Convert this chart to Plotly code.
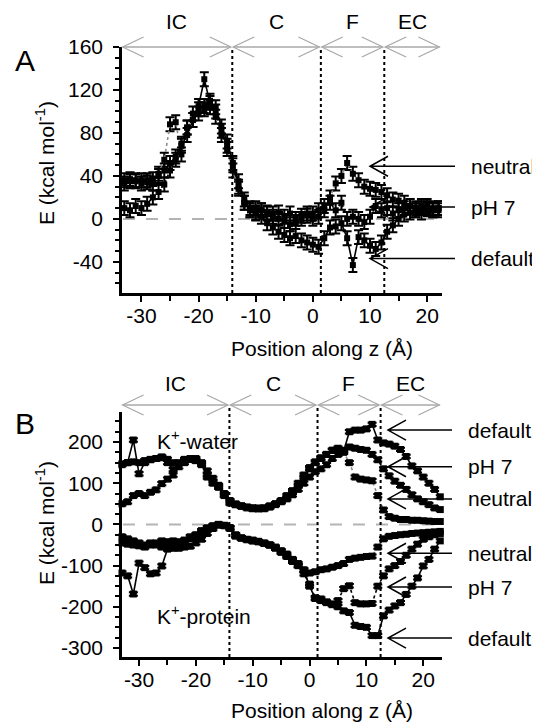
import plotly.graph_objects as go

# ---------------- data ----------------
zA = list(range(-33, 23))
A_default = [36, 37, 35, 36, 34, 37, 40, 45, 52, 58,
             68, 78, 92, 105, 130, 108, 104, 86, 72, 52,
             35, 18, 10, 5, 2, -4, -8, -12, -15, -18,
             -16, -20, -22, -24, -26, -18, -8, -7, -4, -18,
             -43, -17, -20, -25, -28, -22, -12, -6, 0, 4,
             6, 8, 6, 9, 10, 8]
A_ph7 = [10, 8, 12, 10, 14, 20, 25, 32, 45, 55,
         70, 85, 98, 102, 105, 110, 100, 82, 68, 50,
         30, 15, 8, 10, 8, 5, 2, 0, -2, -5,
         -3, 0, 3, 5, 8, 12, 15, 8, 15, 0,
         2, 0, -3, 2, 12, 8, 10, 5, 8, 10,
         12, 8, 10, 12, 8, 10]
A_neutral = [33, 35, 36, 33, 36, 33, 42, 55, 88, 90,
             60, 85, 92, 98, 102, 104, 95, 78, 65, 45,
             28, 15, 8, 6, 8, 6, 5, 6, 2, 5,
             0, 3, 5, 0, 2, 8, 20, 33, 40, 52,
             42, 36, 30, 28, 27, 25, 22, 18, 17, 15,
             12, 10, 12, 10, 8, 10]

zB = list(range(-33, 24))
B_default_water = [147, 150, 205, 123, 150, 157, 160, 164, 150, 133,
                   150, 158, 160, 155, 147, 115, 100, 92, 70, 52,
                   48, 45, 42, 40, 38, 38, 42, 48, 55, 65,
                   78, 95, 115, 135, 150, 160, 170, 180, 185, 178,
                   225, 229, 229, 232, 243, 205, 198, 195, 190, 182,
                   165, 142, 130, 115, 100, 85, 67]
B_ph7_water = [50, 55, 70, 75, 70, 78, 84, 99, 110, 120,
               140, 150, 158, 160, 150, 130, 112, 95, 75, 58,
               50, 45, 42, 40, 40, 40, 45, 50, 58, 70,
               82, 100, 120, 138, 152, 162, 170, 180, 182, 180,
               188, 185, 182, 180, 170, 157, 135, 118, 105, 95,
               85, 72, 62, 55, 48, 40, 36]
B_neutral_water = [145, 150, 152, 150, 155, 158, 160, 162, 158, 150,
                   148, 155, 158, 155, 145, 120, 105, 90, 72, 55,
                   48, 44, 40, 38, 38, 40, 44, 50, 56, 62,
                   72, 85, 100, 115, 128, 135, 145, 160, 170, 175,
                   150, 115, 110, 108, 106, 70, 35, 19, 15, 12,
                   12, 10, 10, 9, 8, 7, 7]
B_default_prot = [-118, -125, -169, -94, -105, -120, -118, -101, -60, -58,
                  -58, -55, -53, -45, -36, -22, -10, 0, -3, -8,
                  -25, -33, -36, -38, -41, -45, -50, -55, -65, -72,
                  -85, -95, -110, -150, -180, -185, -190, -195, -200, -210,
                  -214, -245, -248, -250, -270, -270, -222, -208, -198, -190,
                  -170, -150, -130, -101, -85, -60, -40]
B_ph7_prot = [-30, -35, -40, -45, -50, -45, -50, -55, -58, -55,
              -50, -45, -35, -30, -20, -12, -5, -2, -3, -10,
              -28, -33, -37, -40, -42, -46, -50, -58, -68, -78,
              -90, -100, -120, -145, -178, -181, -188, -193, -185, -156,
              -149, -190, -193, -193, -192, -150, -125, -108, -100, -90,
              -75, -60, -48, -36, -30, -25, -22]
B_neutral_prot = [-45, -48, -50, -52, -55, -50, -45, -40, -42, -40,
                  -42, -38, -30, -25, -15, -8, -3, 0, -2, -8,
                  -28, -33, -37, -40, -42, -46, -50, -56, -64, -75,
                  -88, -100, -112, -118, -115, -110, -108, -104, -100, -95,
                  -85, -82, -80, -78, -77, -55, -35, -29, -27, -25,
                  -24, -22, -21, -20, -19, -18, -17]

err_A = 6.5
err_B = 4

region_bounds = [-14.1, 1.4, 12.5]
region_labels = ["IC", "C", "F", "EC"]

A_arrows = [("neutral", 49), ("pH 7", 11), ("default", -37)]
B_arrows = [("default", 229), ("pH 7", 140), ("neutral", 62),
            ("neutral", -70), ("pH 7", -152), ("default", -276)]

x_ticks = [-30, -20, -10, 0, 10, 20]
yA_ticks = [160, 120, 80, 40, 0, -40]
yB_ticks = [200, 100, 0, -100, -200, -300]

# ---------------- layout geometry (target pixels) ----------------
W, H = 540, 725
OX, OY = 8, 8          # page offset of the plot div
FONT = "Liberation Sans, Arial, sans-serif"


def P(px):
    return (px - OX) / W


def Q(py):
    return 1 - (py - OY) / H


AX_L, AX_R = 122, 442
xdom = [P(AX_L), P(AX_R)]
yA_dom = [Q(293), Q(47)]
yB_dom = [Q(657), Q(412)]
xA_rng = [-33.4, 22.6]
xB_rng = [-33.0, 23.3]
yA_rng = [-69, 160]
yB_rng = [-322, 273]


def frac(v, r):
    return (v - r[0]) / (r[1] - r[0])


def dx(px):
    return (px - AX_L) / (AX_R - AX_L)


def lab(v):
    return str(v)


def txt(size=21):
    return dict(size=size, color="black", family=FONT)


styles = {
    "default": dict(color="black", width=1.6, dash="solid"),
    "pH 7": dict(color="black", width=1.6, dash="dot"),
    "neutral": dict(color="#8a8a8a", width=1.6, dash="dot"),
}

fig = go.Figure()


def add(x, y, name, xa, ya, err, msize):
    fig.add_trace(go.Scatter(
        x=x, y=y, name=name, xaxis=xa, yaxis=ya, mode="lines+markers",
        line=styles[name],
        marker=dict(symbol="square", size=msize, color="black"),
        error_y=dict(type="constant", value=err, color="black",
                     thickness=2, width=4.5),
        showlegend=False, cliponaxis=False))


add(zA, A_neutral, "neutral", "x", "y", err_A, 6)
add(zA, A_ph7, "pH 7", "x", "y", err_A, 6)
add(zA, A_default, "default", "x", "y", err_A, 6)
for nm, ys in [("neutral", B_neutral_water), ("pH 7", B_ph7_water),
               ("default", B_default_water), ("neutral", B_neutral_prot),
               ("pH 7", B_ph7_prot), ("default", B_default_prot)]:
    add(zB, ys, nm, "x2", "y2", err_B, 7)

shapes = []
annotations = []

panels = [
    dict(xr="x", yr="y", xrng=xA_rng, yrng=yA_rng, top=47, arr=47, bottom=293,
         arrows=A_arrows, tip=370, tail=455, text=469, letter="A",
         letter_y=60, lab_y=22, ytitle=163, xtitle=348),
    dict(xr="x2", yr="y2", xrng=xB_rng, yrng=yB_rng, top=412, arr=405, bottom=657,
         arrows=B_arrows, tip=388, tail=452, text=466, letter="B",
         letter_y=423, lab_y=383, ytitle=523, xtitle=710),
]

for p in panels:
    xd, yd = p["xr"] + " domain", p["yr"] + " domain"
    ytop = (p["bottom"] - p["arr"]) / (p["bottom"] - p["top"])
    # zero line
    shapes.append(dict(type="line", xref=xd, yref=p["yr"], x0=0.003, x1=0.985,
                       y0=0, y1=0, layer="below",
                       line=dict(color="#b4b4b4", width=2, dash="12px,11px")))
    # region boundaries
    for b in region_bounds:
        f = frac(b, p["xrng"])
        shapes.append(dict(type="line", xref=xd, yref=yd, x0=f, x1=f,
                           y0=0, y1=ytop,
                           line=dict(color="black", width=2, dash="dot")))
    # region arrows
    edges = [p["xrng"][0] + 0.1] + region_bounds + [p["xrng"][1] - 0.2]
    for i, name in enumerate(region_labels):
        a = frac(edges[i] + (0.15 if i else 0), p["xrng"])
        b = frac(edges[i + 1] - 0.25, p["xrng"])
        shapes.append(dict(type="line", xref=xd, yref=yd, x0=a, x1=b,
                           y0=ytop, y1=ytop,
                           line=dict(color="#a8a8a8", width=1.5)))
        for anc, path in [(a, "M 21,10 L 0,0 L 21,-10"), (b, "M -21,10 L 0,0 L -21,-10")]:
            shapes.append(dict(type="path", xref=xd, yref=yd,
                               xsizemode="pixel", ysizemode="pixel",
                               xanchor=anc, yanchor=ytop, path=path,
                               line=dict(color="#a8a8a8", width=1.2)))
        annotations.append(dict(xref=xd, yref="paper",
                                x=(a + b) / 2, y=Q(p["lab_y"]),
                                xanchor="center", yanchor="middle",
                                text=name, showarrow=False, font=txt()))
    # right side arrows + labels
    for name, yv in p["arrows"]:
        yf = frac(yv, p["yrng"])
        shapes.append(dict(type="path", xref=xd, yref=yd,
                           xsizemode="pixel", ysizemode="pixel",
                           xanchor=dx(p["tip"]), yanchor=yf,
                           path="M 18,10 L 0,0 L 18,-10 M 0,0 L %d,0" % (p["tail"] - p["tip"]),
                           line=dict(color="black", width=1.5)))
        annotations.append(dict(xref=xd, yref=p["yr"], x=dx(p["text"]),
                                y=yv, xanchor="left", yanchor="middle",
                                text=name, showarrow=False, font=txt()))
    # panel letter
    annotations.append(dict(xref="paper", yref="paper", x=P(25), y=Q(p["letter_y"]),
                            xanchor="center", yanchor="middle",
                            text=p["letter"], showarrow=False, font=txt(30)))
    # y title
    annotations.append(dict(xref="paper", yref="paper", x=P(45), y=Q(p["ytitle"]),
                            xanchor="center", yanchor="middle",
                            text="E (kcal mol<sup>-1</sup>)", textangle=-90,
                            showarrow=False, font=txt()))
    # x title
    annotations.append(dict(xref="paper", yref="paper", x=P(322), y=Q(p["xtitle"]),
                            xanchor="center", yanchor="middle",
                            text="Position along z (Å)", showarrow=False, font=txt()))

annotations.append(dict(xref="x2", yref="y2", x=-19.8, y=204,
                        xanchor="center", yanchor="middle",
                        text="K<sup>+</sup>-water", showarrow=False, font=txt()))
annotations.append(dict(xref="x2", yref="y2", x=-18.6, y=-220,
                        xanchor="center", yanchor="middle",
                        text="K<sup>+</sup>-protein", showarrow=False, font=txt()))

axis_common = dict(showline=True, linewidth=2.5, linecolor="black",
                   ticks="outside", ticklen=6, tickwidth=2, tickcolor="black",
                   showgrid=False, zeroline=False, automargin=False,
                   tickfont=txt())


def xminor():
    return dict(tickmode="linear", tick0=0, dtick=5, ticks="outside",
                ticklen=5, tickwidth=1.5, tickcolor="black")


def yminor(d):
    return dict(tickmode="linear", tick0=0, dtick=d, ticks="outside",
                ticklen=4, tickwidth=1.5, tickcolor="black")


fig.update_layout(
    width=W, height=H, margin=dict(l=0, r=0, t=0, b=0, autoexpand=False),
    paper_bgcolor="white", plot_bgcolor="white",
    xaxis=dict(domain=xdom, range=xA_rng, anchor="y", tickmode="array",
               tickvals=x_ticks, ticktext=[lab(v) for v in x_ticks],
               ticklabelstandoff=-4, minor=xminor(), **axis_common),
    yaxis=dict(domain=yA_dom, range=yA_rng, anchor="x", tickmode="array",
               tickvals=yA_ticks, ticktext=[lab(v) for v in yA_ticks],
               ticklabelstandoff=6, minor=yminor(10), **axis_common),
    xaxis2=dict(domain=xdom, range=xB_rng, anchor="y2", tickmode="array",
                tickvals=x_ticks, ticktext=[lab(v) for v in x_ticks],
                ticklabelstandoff=-4, minor=xminor(), **axis_common),
    yaxis2=dict(domain=yB_dom, range=yB_rng, anchor="x2", tickmode="array",
                tickvals=yB_ticks, ticktext=[lab(v) for v in yB_ticks],
                ticklabelstandoff=6, minor=yminor(25), **axis_common),
    shapes=shapes, annotations=annotations,
)

fig.write_html("out.html")
